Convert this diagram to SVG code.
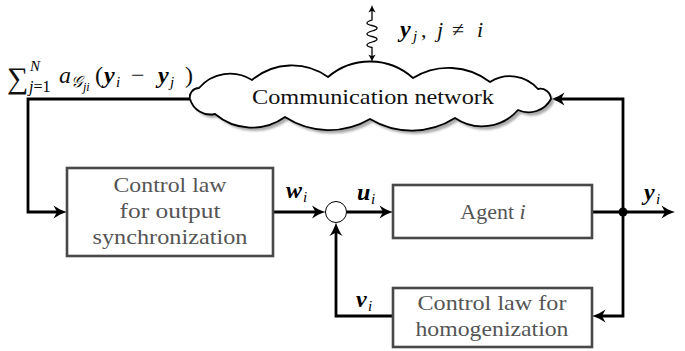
<svg xmlns="http://www.w3.org/2000/svg" width="685" height="351" viewBox="0 0 685 351">
<style>
.box{fill:#fff;stroke:#484848;stroke-width:2.6}
.wire{fill:none;stroke:#000;stroke-width:2.8;stroke-linejoin:miter}
.lbl{font-family:'Liberation Serif',serif;font-size:22px;fill:#111}
.gray{font-family:'Liberation Serif',serif;font-size:22px;fill:#555;text-anchor:middle}
.m{font-family:'Liberation Serif',serif;font-weight:bold;font-style:italic;font-size:24px;fill:#000}
.s{font-family:'Liberation Serif',serif;font-style:italic;font-size:15px;fill:#000}
.it{font-style:italic}
</style>
<defs>
<marker id="ah" viewBox="0 0 14 14" markerWidth="14" markerHeight="14" refX="8" refY="7" orient="auto" markerUnits="userSpaceOnUse">
<path d="M14,7 C9,5.6 4,3 0.5,0.5 L4,7 L0.5,13.5 C4,11 9,8.4 14,7 Z" fill="#000"/>
</marker>
<marker id="sa" viewBox="0 0 8 8" markerWidth="8" markerHeight="8" refX="4" refY="4" orient="auto-start-reverse" markerUnits="userSpaceOnUse">
<path d="M8,4 C5.5,3.3 2.5,1.6 0.5,0.4 L2.2,4 L0.5,7.6 C2.5,6.4 5.5,4.7 8,4 Z" fill="#000"/>
</marker>
<filter id="blur" x="-10%" y="-20%" width="120%" height="140%"><feGaussianBlur stdDeviation="1.2"/></filter>
<path id="cloudShape" d="M190,99 A9.1,9.1 0 0 1 199,88 A40.9,40.9 0 0 1 252,80 A62,62 0 0 1 328,77 A64.4,64.4 0 0 1 413,78 A67.8,67.8 0 0 1 490,82 A37.2,37.2 0 0 1 538,89 A10.7,10.7 0 0 1 551,99 A25.5,25.5 0 0 1 518,110 A48,48 0 0 1 455,118 A81,81 0 0 1 370,119 A81,81 0 0 1 285,117 A57,57 0 0 1 215,114 A21.3,21.3 0 0 1 190,99 Z"/>
</defs>

<g id="connectors">
<path class="wire" d="M190,99 H28 V212 H61" marker-end="url(#ah)"/>
<path class="wire" d="M273,212 H319.5" marker-end="url(#ah)"/>
<path class="wire" d="M346.5,212 H387" marker-end="url(#ah)"/>
<path class="wire" d="M592,212 H669" marker-end="url(#ah)"/>
<path class="wire" d="M623,212 V99 H557" marker-end="url(#ah)"/>
<path class="wire" d="M623,212 V316 H598" marker-end="url(#ah)"/>
<path class="wire" d="M393,316 H336 V228.5" marker-end="url(#ah)"/>
<path d="M372,9 V20 q-10,3 0,5.5 t0,5.5 t0,5.5 t0,5.5 t0,5.5 V58" fill="none" stroke="#000" stroke-width="1.3" marker-start="url(#sa)" marker-end="url(#sa)"/>
<circle cx="623" cy="212" r="4.5" fill="#000"/>
</g>

<g id="network">
<use href="#cloudShape" transform="translate(3,3.5)" fill="#aaa" filter="url(#blur)"/>
<use href="#cloudShape" fill="#fff" stroke="#000" stroke-width="1.8"/>
<text class="lbl" x="373" y="104" text-anchor="middle" textLength="242" lengthAdjust="spacingAndGlyphs">Communication network</text>
</g>

<g id="sync">
<rect class="box" x="67" y="168" width="206" height="88"/>
<text class="gray" x="170" y="192" textLength="113" lengthAdjust="spacingAndGlyphs">Control law</text>
<text class="gray" x="170" y="218" textLength="101" lengthAdjust="spacingAndGlyphs">for output</text>
<text class="gray" x="170" y="244" textLength="155" lengthAdjust="spacingAndGlyphs">synchronization</text>
</g>

<g id="sum">
<circle cx="336" cy="212" r="10.5" fill="#fff" stroke="#000" stroke-width="1"/>
</g>

<g id="agent">
<rect class="box" x="393" y="185" width="199" height="53"/>
<text class="gray" x="493" y="219">Agent <tspan class="it">i</tspan></text>
</g>

<g id="homog">
<rect class="box" x="393" y="288" width="199" height="59"/>
<text class="gray" x="492" y="310" textLength="149" lengthAdjust="spacingAndGlyphs">Control law for</text>
<text class="gray" x="492" y="336" textLength="153" lengthAdjust="spacingAndGlyphs">homogenization</text>
</g>

<g id="labels">
<text class="m" x="286" y="198">w</text><text class="s" x="303" y="202">i</text>
<text class="m" x="357" y="200">u</text><text class="s" x="371" y="204">i</text>
<text class="m" x="644" y="200">y</text><text class="s" x="656" y="204">i</text>
<text class="m" x="356" y="307">v</text><text class="s" x="368" y="311">i</text>
<text class="m" x="400" y="37">y</text><text class="s" x="413" y="41">j</text><text class="lbl" x="421" y="37">,</text><text class="lbl it" x="437" y="37">j</text><text class="lbl" x="452" y="37">≠</text><text class="lbl it" x="477" y="37">i</text>
<text class="lbl" x="7" y="88" style="font-size:30px">∑</text>
<text class="s" x="30" y="71">N</text>
<text class="s" x="29" y="92" style="font-size:16px"><tspan class="it">j</tspan><tspan font-style="normal">=1</tspan></text>
<text class="lbl it" x="59" y="83" style="font-size:24px">a</text>
<text class="s" x="71" y="87" style="font-size:16px">𝒢</text>
<text class="s" x="83" y="91" style="font-size:12px">ji</text>
<text class="lbl" x="95" y="83" style="font-size:24px">(</text>
<text class="m" x="104" y="83">y</text><text class="s" x="116" y="87">i</text>
<text class="lbl" x="131" y="83" style="font-size:24px">−</text>
<text class="m" x="158" y="83">y</text><text class="s" x="170" y="87">j</text>
<text class="lbl" x="185" y="83" style="font-size:24px">)</text>
</g>
</svg>
